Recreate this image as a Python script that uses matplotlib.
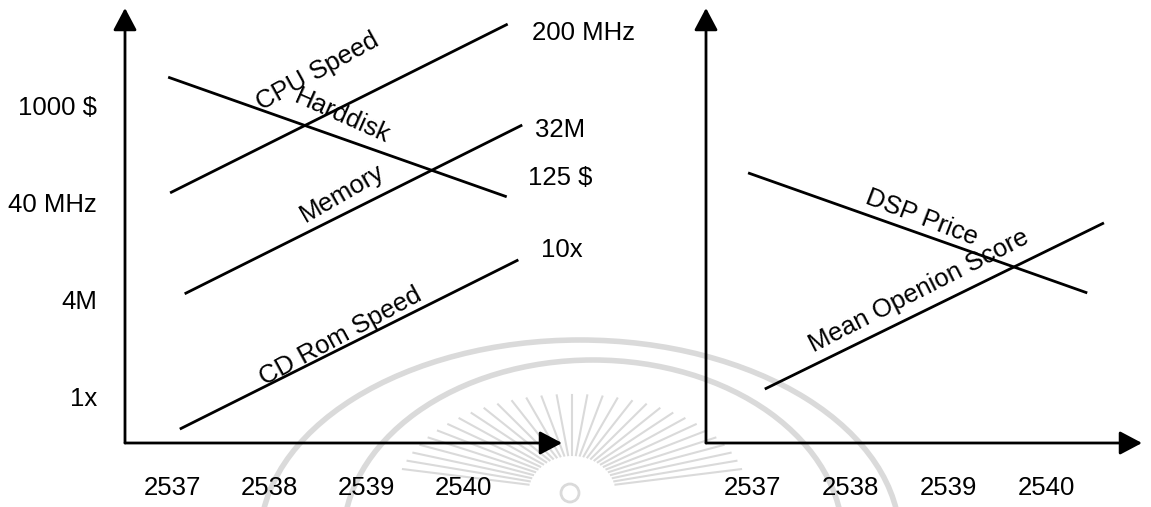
import numpy as np
import matplotlib.pyplot as plt
from matplotlib.patches import Arc

plt.rcParams['font.family'] = ['Liberation Sans', 'DejaVu Sans']

years = [2537, 2538, 2539, 2540]

# left panel: PC component trends (free 0-10 level scale)
pc_names = ['CPU Speed', 'Harddisk', 'Memory', 'CD Rom Speed']
pc_x = [[2536.98, 2540.46], [2536.96, 2540.45], [2537.13, 2540.61], [2537.08, 2540.57]]
pc_y = [[5.75, 9.63], [8.41, 5.66], [3.43, 7.31], [0.32, 4.21]]
start_labels = ['1000 $', '40 MHz', '4M', '1x']
start_levels = [7.75, 5.52, 3.31, 1.08]
end_labels = ['200 MHz', '32M', '125 $', '10x']
end_levels = [9.43, 7.20, 6.09, 4.44]

# right panel: DSP trends
dsp_names = ['DSP Price', 'Mean Openion Score']
dsp_x = [[2536.96, 2540.41], [2537.13, 2540.58]]
dsp_y = [[6.21, 3.45], [1.24, 5.06]]

W, H = 1151, 507
FS = 18.5
LW = 2.0

fig = plt.figure(figsize=(W / 100, H / 100), dpi=100)

# faint watermark behind everything
bg = fig.add_axes([0, 0, 1, 1], zorder=-1)
bg.set_xlim(0, W)
bg.set_ylim(H, 0)
bg.axis('off')
wm = '#dadada'
bg.add_patch(Arc((580, 540), 640, 400, theta1=180, theta2=360, color=wm, lw=4))
bg.add_patch(Arc((593, 540), 500, 360, theta1=180, theta2=360, color=wm, lw=4))
for a in np.linspace(np.radians(15), np.radians(165), 31):
    c, s = np.cos(a), np.sin(a)
    bg.plot([572 + 45 * c, 572 + 175 * c], [495 - 40 * s, 495 - 100 * s],
            color=wm, lw=1.5)
bg.add_patch(plt.Circle((570, 493), 9, fill=False, color=wm, lw=2))


def px_axes(x0, x1, y_top, y_bot):
    ax = fig.add_axes([x0 / W, (H - y_bot) / H, (x1 - x0) / W, (y_bot - y_top) / H])
    ax.patch.set_alpha(0)
    for s in ax.spines.values():
        s.set_visible(False)
    arrow = dict(arrowstyle='-|>,head_length=0.68,head_width=0.36', lw=LW,
                 color='black', mutation_scale=20, shrinkA=0, shrinkB=0)
    ax.annotate('', xy=(0, 1), xytext=(0, 0), xycoords='axes fraction', arrowprops=arrow)
    ax.annotate('', xy=(1, 0), xytext=(0, 0), xycoords='axes fraction', arrowprops=arrow)
    ax.set_ylim(0, 10)
    ax.set_xticks(years, [str(y) for y in years], fontsize=FS)
    ax.tick_params(axis='x', length=0, pad=24)
    return ax


# left panel
ax1 = px_axes(125, 562, 8, 443)
ax1.set_xlim(2536.515, 2541.02)
for xs, ys in zip(pc_x, pc_y):
    ax1.plot(xs, ys, color='black', lw=LW, solid_capstyle='butt')
ax1.set_yticks(start_levels, start_labels, fontsize=FS)
ax1.tick_params(axis='y', length=0, pad=20)
end_x = [2540.71, 2540.74, 2540.67, 2540.80]
for x, lv, lab in zip(end_x, end_levels, end_labels):
    ax1.text(x, lv, lab, ha='left', va='center', fontsize=FS, clip_on=False)
pc_label_pos = [(2538.505, 8.55, 29), (2538.75, 7.50, -24),
                (2538.75, 5.75, 30), (2538.74, 2.44, 28.5)]
for name, (x, y, r) in zip(pc_names, pc_label_pos):
    ax1.text(x, y, name, ha='center', va='center', rotation=r,
             rotation_mode='anchor', fontsize=FS)

# right panel
ax2 = px_axes(706, 1142, 8, 443)
ax2.set_xlim(2536.532, 2540.967)
for xs, ys in zip(dsp_x, dsp_y):
    ax2.plot(xs, ys, color='black', lw=LW, solid_capstyle='butt')
ax2.set_yticks([])
dsp_label_pos = [(2538.73, 5.17, -21), (2538.70, 3.49, 27)]
for name, (x, y, r) in zip(dsp_names, dsp_label_pos):
    ax2.text(x, y, name, ha='center', va='center', rotation=r,
             rotation_mode='anchor', fontsize=FS)

fig.savefig('out.png', dpi=100)
